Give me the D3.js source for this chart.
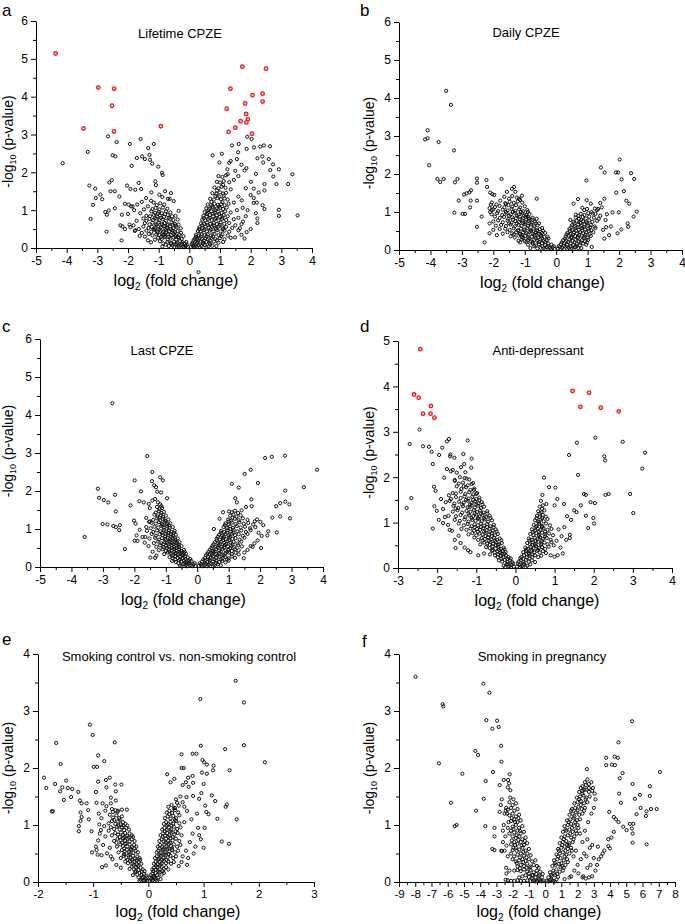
<!DOCTYPE html>
<html>
<head>
<meta charset="utf-8">
<script src="https://cdn.jsdelivr.net/npm/d3@7"></script>
<style>
  body { margin: 0; background: #fff; }
  text { font-family: "Liberation Sans", Arial, sans-serif; fill: #000; }
</style>
</head>
<body>
<div id="chart"></div>
<script>
// ---- data (log2 fold change, -log10 p) ----
var lifetimeRed = [[-4.36,5.14],[-2.97,4.24],[-2.45,4.21],[-2.52,3.76],[-3.45,3.16],[-2.46,3.08],[-0.93,3.22],[1.73,4.79],[2.50,4.74],[1.34,4.21],[1.22,3.68],[2.06,4.04],[2.39,4.08],[2.39,3.87],[1.82,3.82],[1.85,3.54],[1.91,3.40],[1.86,3.32],[1.67,3.35],[1.50,3.18],[1.28,3.07],[2.04,3.02]];
var lifetimeBlack = [[-4.13,2.24],[-3.31,2.54],[-2.65,2.95],[-2.37,2.80],[-2.50,2.45],[-2.41,2.42],[-3.26,1.65],[-3.07,1.57],[-2.90,1.41],[-2.84,1.29],[-3.05,1.32],[-3.14,1.14],[-2.61,1.73],[-2.53,1.79],[-2.57,1.50],[-2.43,1.50],[-2.74,0.95],[-2.69,0.88],[-2.63,0.99],[-3.22,0.77],[-2.70,0.43],[-2.43,1.05],[-2.21,0.20],[-1.94,2.75],[-1.59,2.88],[-1.88,2.17],[-1.71,2.38],[-1.54,2.42],[-1.34,2.64],[-1.16,2.75],[-1.30,2.46],[-1.45,2.35],[-1.28,2.33],[-1.21,2.23],[-1.01,2.15],[-0.89,1.99],[-0.87,1.93],[-1.11,1.76],[-1.09,1.66],[-2.03,1.65],[-1.92,1.56],[-1.76,1.54],[-1.65,1.72],[-1.57,1.56],[-1.41,1.32],[-1.24,1.47],[-0.98,1.41],[-0.79,1.50],[-0.64,1.30],[-0.51,1.24],[-0.35,0.98],[-2.28,1.36],[-2.10,1.17],[-1.85,1.10],[-2.18,0.57],[-2.10,0.50],[-1.92,0.55],[-1.76,0.47],
[0.76,2.45],[1.06,2.49],[0.98,2.26],[1.39,2.71],[1.61,2.75],[1.59,2.53],[1.89,2.94],[2.03,2.88],[1.87,2.62],[2.11,2.66],[2.31,2.68],[2.43,2.71],[2.63,2.69],[2.22,2.37],[2.38,2.42],[2.41,2.26],[2.59,2.35],[2.73,2.21],[2.92,2.08],[3.36,1.95],[3.22,1.69],[2.84,1.69],[2.74,1.89],[2.64,2.06],[2.45,1.69],[2.45,1.52],[2.17,1.96],[1.86,2.11],[1.50,2.04],[1.30,2.25],[1.24,2.08],[2.01,1.75],[1.84,1.58],[2.10,1.57],[2.26,1.47],[1.60,1.36],[1.71,1.26],[2.10,1.32],[2.10,1.19],[2.45,1.03],[2.39,1.13],[2.92,1.01],[2.92,0.85],[3.53,0.86],[2.17,0.92],[2.22,0.78],[2.22,0.66],[1.87,0.42],[1.65,0.52],[1.49,0.28],[1.84,0.84],[1.74,1.06],[0.30,-0.64],
[-0.05,0.03],[-0.12,0.06],[-0.2,0.04],[-0.28,0.08],[-0.36,0.05],[-0.45,0.09],[-0.55,0.07],[-0.15,0.12],[-0.1,0.16],[-0.22,0.15],[-0.3,0.18],[-0.4,0.14],[-0.5,0.17],[-0.6,0.13],[-0.72,0.16],[-0.85,0.12],[-0.96,0.18],[-0.25,0.24],[-0.34,0.27],[-0.43,0.22],[-0.52,0.28],[-0.62,0.25],[-0.7,0.22],[-0.8,0.29],[-0.9,0.24],[-1.02,0.27],[-1.12,0.22],[-0.32,0.35],[-0.42,0.33],[-0.5,0.38],[-0.6,0.34],[-0.7,0.37],[-0.78,0.32],[-0.88,0.38],[-0.98,0.34],[-1.08,0.36],[-1.2,0.33],[-1.32,0.37],[-0.38,0.45],[-0.47,0.42],[-0.56,0.47],[-0.66,0.44],[-0.76,0.48],[-0.86,0.42],[-0.94,0.46],[-1.04,0.44],[-1.14,0.48],[-1.24,0.43],[-1.4,0.46],[-0.42,0.55],[-0.52,0.52],[-0.63,0.57],[-0.73,0.53],[-0.83,0.58],[-0.93,0.54],[-1.02,0.57],[-1.12,0.52],[-1.22,0.56],[-1.33,0.53],[-1.5,0.57],[-0.47,0.64],[-0.58,0.67],[-0.69,0.62],[-0.8,0.66],[-0.9,0.63],[-1.0,0.68],[-1.1,0.64],[-1.2,0.67],[-1.3,0.62],[-1.45,0.66],[-0.52,0.74],[-0.64,0.77],[-0.76,0.72],[-0.87,0.76],[-0.98,0.73],[-1.08,0.78],[-1.18,0.74],[-1.3,0.77],[-1.4,0.72],[-0.56,0.84],[-0.7,0.87],[-0.83,0.82],[-0.95,0.86],[-1.05,0.83],[-1.16,0.88],[-1.28,0.84],[-0.62,0.94],[-0.76,0.97],[-0.9,0.92],[-1.0,0.96],[-1.12,0.93],[-1.24,0.97],[-0.72,1.04],[-0.86,1.07],[-0.98,1.02],[-1.1,1.06],[-1.2,1.03],[-0.82,1.15],[-0.95,1.18],[-1.06,1.13],[-1.16,1.2],
[-1.6,0.92],[-1.72,0.72],[-1.82,0.6],[-2.0,0.9],[-1.9,1.1],[-1.55,1.22],[-1.48,1.02],[-1.65,0.5],[-1.55,0.4],[-1.45,0.3],[-1.8,1.0],[-1.7,1.15],[-2.2,0.88],[-1.98,1.15],[-1.62,0.32],[-1.35,0.2],[-1.25,0.15],[-1.78,0.45],[-1.95,0.62],[-2.25,0.6],[-1.4,0.85],[-1.5,0.78],[-1.35,1.1],[-0.7,1.3],[-0.6,1.45],[-0.88,1.35],[-1.25,1.25],[-0.45,0.85],[-0.38,0.75],[-0.35,0.62],[-0.28,0.52],
[-0.08,0.09],[-0.17,0.02],[-0.24,0.11],[-0.33,0.02],[-0.41,0.1],[-0.49,0.03],[-0.58,0.11],[-0.67,0.05],[-0.77,0.09],[-0.88,0.04],[-0.19,0.31],[-0.27,0.4],[-0.37,0.29],[-0.46,0.31],[-0.55,0.41],[-0.65,0.3],[-0.74,0.41],[-0.83,0.35],[-0.93,0.29],[-1.05,0.41],[-0.44,0.59],[-0.54,0.62],[-0.61,0.5],[-0.71,0.6],[-0.79,0.51],[-0.87,0.61],[-0.97,0.5],[-1.07,0.61],[-1.17,0.5],[-0.67,0.8],[-0.79,0.9],[-0.92,0.8],[-1.03,0.91],[-1.13,0.79],
[0.05,0.03],[0.12,0.06],[0.2,0.04],[0.3,0.07],[0.4,0.05],[0.5,0.08],[0.62,0.04],[0.75,0.06],[0.1,0.14],[0.18,0.16],[0.26,0.13],[0.35,0.17],[0.45,0.14],[0.55,0.16],[0.66,0.13],[0.8,0.17],[0.95,0.14],[1.1,0.16],[0.18,0.25],[0.25,0.23],[0.33,0.27],[0.42,0.24],[0.52,0.26],[0.62,0.23],[0.72,0.27],[0.85,0.24],[1.0,0.26],[1.15,0.23],[1.35,0.27],[0.22,0.35],[0.3,0.33],[0.4,0.37],[0.5,0.34],[0.6,0.36],[0.7,0.33],[0.82,0.37],[0.95,0.34],[1.08,0.36],[1.25,0.33],[0.28,0.45],[0.37,0.43],[0.47,0.47],[0.57,0.44],[0.67,0.46],[0.78,0.43],[0.9,0.47],[1.02,0.44],[1.15,0.46],[1.3,0.43],[1.6,0.47],[0.33,0.55],[0.43,0.53],[0.53,0.57],[0.63,0.54],[0.74,0.56],[0.85,0.53],[0.96,0.57],[1.08,0.54],[1.2,0.56],[1.4,0.53],[0.38,0.65],[0.48,0.63],[0.58,0.67],[0.68,0.64],[0.8,0.66],[0.9,0.63],[1.02,0.67],[1.14,0.64],[1.3,0.66],[1.7,0.63],[0.42,0.75],[0.52,0.73],[0.62,0.77],[0.73,0.74],[0.84,0.76],[0.95,0.73],[1.07,0.77],[1.2,0.74],[1.45,0.76],[0.46,0.85],[0.56,0.83],[0.67,0.87],[0.78,0.84],[0.9,0.86],[1.0,0.83],[1.12,0.87],[1.25,0.84],[0.5,0.95],[0.6,0.93],[0.72,0.97],[0.83,0.94],[0.94,0.96],[1.05,0.93],[1.17,0.97],[1.35,0.94],[0.55,1.05],[0.65,1.03],[0.77,1.07],[0.88,1.04],[1.0,1.06],[1.1,1.03],[1.22,1.07],[0.6,1.15],[0.7,1.13],[0.82,1.17],[0.93,1.14],[1.04,1.16],[1.15,1.13],[1.28,1.17],[0.68,1.3],[0.8,1.28],[0.92,1.32],[1.03,1.29],[1.15,1.31],[1.25,1.28],[0.75,1.45],[0.88,1.43],[1.0,1.47],[1.1,1.44],[1.2,1.46],[0.82,1.6],[0.95,1.58],[1.05,1.62],[1.18,1.59],[0.9,1.75],[1.0,1.73],[1.12,1.77],[1.3,1.74],[0.95,1.9],[1.08,1.88],[1.2,1.92],
[1.5,0.6],[1.6,0.8],[1.75,0.7],[1.9,1.0],[2.0,0.5],[1.55,1.0],[1.45,1.2],[1.35,1.55],[1.45,1.8],[1.6,1.9],[1.7,2.2],[1.25,1.95],[1.35,2.3],[1.55,2.35],[1.8,2.05],[2.0,1.4],[2.2,1.2],[1.7,0.35],[1.8,0.25],
[0.08,0.1],[0.15,0.02],[0.23,0.1],[0.34,0.02],[0.44,0.11],[0.56,0.02],[0.68,0.1],[0.88,0.05],[0.14,0.21],[0.22,0.3],[0.29,0.2],[0.37,0.3],[0.47,0.2],[0.56,0.31],[0.67,0.2],[0.77,0.3],[0.9,0.2],[1.04,0.31],[0.32,0.5],[0.42,0.6],[0.5,0.49],[0.6,0.61],[0.7,0.5],[0.79,0.6],[0.88,0.51],[0.99,0.61],[1.1,0.5],[0.47,0.79],[0.57,0.9],[0.66,0.8],[0.77,0.91],[0.87,0.79],[0.97,0.9],[1.08,0.81],[0.62,1.0],[0.75,1.1],[0.85,1.0],[0.97,1.1],[1.08,1.21],[0.72,1.22],[0.85,1.38],[0.97,1.36],[1.12,1.38],[0.9,1.52],[1.1,1.67]];

var dailyPts = [[-4.09,3.15],[-4.17,2.91],[-4.09,2.94],[-4.04,2.23],[-3.74,2.84],[-3.50,4.19],[-3.35,3.82],[-3.25,2.62],[-3.78,1.87],[-3.69,1.79],[-3.58,1.87],[-3.22,1.78],[-3.14,1.87],[-3.24,0.98],[-3.10,1.30],[-2.98,0.95],[-2.90,0.95],[-2.93,1.46],[-2.85,1.49],[-2.76,1.52],[-2.71,1.57],[-2.72,1.30],[-2.74,1.12],[-2.52,1.88],[-2.52,1.77],[-2.52,1.30],[-2.52,0.61],[-2.37,0.88],[-2.28,0.20],[-2.22,1.84],[-2.20,1.66],[-2.10,1.51],[-2.03,1.47],[-1.97,1.45],[-1.74,1.87],[-1.57,1.53],[-1.41,1.61],[-1.34,1.66],[-1.30,1.53],[-1.09,1.43],[-0.88,0.85],[-0.62,1.35],[-1.18,1.35],[-1.60,1.21],[-1.65,1.40],[-2.08,1.19],[-2.05,1.05],[-2.12,0.70],[-2.12,0.44],[-2.00,0.53],[-1.89,0.39],
[0.96,1.83],[1.42,2.17],[1.54,2.04],[1.74,0.62],[1.90,2.04],[1.97,2.04],[2.02,2.38],[2.08,1.86],[2.15,1.55],[1.91,1.51],[2.23,1.30],[2.32,1.22],[2.38,2.02],[2.48,1.87],[2.56,1.01],[2.46,0.88],[2.27,0.70],[2.29,0.61],[2.07,0.54],[1.95,0.44],[1.79,0.99],[1.99,0.99],[1.61,0.94],[1.57,0.79],[1.49,0.53],[1.53,0.30],[1.68,0.39],[1.59,0.60],[1.53,1.35],[1.40,1.24],[1.33,1.08],[1.23,1.09],[1.16,0.96],[0.97,1.31],[0.69,1.34],[0.55,1.22],[1.10,1.22],[0.89,1.05],[0.83,1.11],[0.62,0.93],[0.45,0.79],[1.13,0.08],
[-0.05,0.03],[-0.12,0.07],[-0.2,0.05],[-0.3,0.08],[-0.4,0.04],[-0.5,0.06],[-0.15,0.14],[-0.25,0.17],[-0.35,0.13],[-0.45,0.18],[-0.55,0.15],[-0.65,0.12],[-0.75,0.17],[-0.9,0.14],[-0.3,0.26],[-0.4,0.23],[-0.5,0.28],[-0.6,0.24],[-0.7,0.27],[-0.8,0.22],[-0.9,0.26],[-1.0,0.23],[-1.1,0.28],[-1.2,0.24],[-0.38,0.34],[-0.48,0.37],[-0.58,0.33],[-0.68,0.38],[-0.78,0.35],[-0.88,0.32],[-0.98,0.37],[-1.08,0.34],[-1.2,0.38],[-1.32,0.33],[-1.45,0.36],[-0.45,0.45],[-0.55,0.42],[-0.65,0.47],[-0.75,0.43],[-0.85,0.48],[-0.95,0.44],[-1.05,0.46],[-1.15,0.42],[-1.27,0.47],[-1.4,0.44],[-1.55,0.47],[-1.7,0.43],[-0.52,0.55],[-0.62,0.52],[-0.72,0.57],[-0.82,0.53],[-0.92,0.58],[-1.02,0.54],[-1.12,0.56],[-1.22,0.52],[-1.35,0.57],[-1.48,0.53],[-1.62,0.56],[-1.8,0.55],[-0.6,0.65],[-0.7,0.62],[-0.8,0.67],[-0.9,0.63],[-1.0,0.68],[-1.1,0.64],[-1.2,0.66],[-1.32,0.62],[-1.45,0.67],[-1.6,0.63],[-1.75,0.66],[-1.92,0.64],[-0.68,0.75],[-0.78,0.72],[-0.88,0.77],[-0.98,0.73],[-1.08,0.78],[-1.18,0.74],[-1.3,0.76],[-1.42,0.72],[-1.55,0.77],[-1.7,0.73],[-1.85,0.78],[-2.0,0.75],[-0.75,0.85],[-0.86,0.82],[-0.96,0.87],[-1.06,0.83],[-1.16,0.88],[-1.28,0.84],[-1.4,0.86],[-1.52,0.82],[-1.66,0.87],[-1.8,0.84],[-1.95,0.88],[-0.85,0.95],[-0.96,0.92],[-1.08,0.97],[-1.2,0.93],[-1.32,0.98],[-1.45,0.94],[-1.58,0.96],[-1.72,0.92],[-1.88,0.97],[-2.05,0.94],[-0.92,1.05],[-1.05,1.02],[-1.18,1.07],[-1.3,1.03],[-1.42,1.08],[-1.55,1.04],[-1.7,1.06],[-1.85,1.02],[-2.0,1.07],[-2.12,1.1],[-1.0,1.15],[-1.15,1.12],[-1.28,1.18],[-1.4,1.14],[-1.52,1.18],[-1.65,1.12],[-1.8,1.16],[-1.95,1.13],[-1.08,1.25],[-1.22,1.28],[-1.35,1.24],[-1.48,1.27],[-1.62,1.23],[-1.78,1.3],[-1.9,1.2],[-1.25,1.38],[-1.4,1.42],[-1.5,1.35],[-1.15,1.32],[-2.05,1.25],[-2.1,1.0],[-0.45,0.58],[-0.35,0.45],[-0.28,0.35],[-0.55,0.7],[-0.62,0.82],
[-0.08,0.1],[-0.17,0.02],[-0.26,0.11],[-0.35,0.02],[-0.45,0.1],[-0.6,0.04],[-0.7,0.1],[-0.82,0.05],[-0.25,0.3],[-0.35,0.21],[-0.45,0.31],[-0.55,0.21],[-0.65,0.31],[-0.75,0.2],[-0.85,0.3],[-0.95,0.21],[-1.05,0.31],[-1.15,0.2],[-0.42,0.5],[-0.5,0.41],[-0.6,0.5],[-0.7,0.41],[-0.8,0.5],[-0.9,0.41],[-1.0,0.51],[-1.1,0.4],[-1.2,0.5],[-1.35,0.41],[-0.65,0.7],[-0.75,0.8],[-0.85,0.7],[-0.95,0.8],[-1.05,0.7],[-1.15,0.8],[-1.25,0.7],[-1.38,0.8],[-1.5,0.7],[-0.9,1.0],[-1.02,0.9],[-1.12,1.0],[-1.25,0.9],[-1.38,1.0],[-1.5,0.9],[-1.6,1.0],
[0.05,0.04],[0.12,0.08],[0.2,0.05],[0.3,0.09],[0.4,0.06],[0.5,0.04],[0.6,0.08],[0.7,0.05],[0.15,0.15],[0.25,0.18],[0.35,0.14],[0.45,0.17],[0.55,0.13],[0.65,0.16],[0.75,0.12],[0.85,0.17],[0.95,0.14],[0.22,0.26],[0.32,0.23],[0.42,0.28],[0.52,0.24],[0.62,0.27],[0.72,0.22],[0.82,0.26],[0.92,0.23],[1.02,0.27],[0.3,0.35],[0.4,0.38],[0.5,0.34],[0.6,0.37],[0.7,0.33],[0.8,0.38],[0.9,0.35],[1.0,0.32],[1.1,0.37],[0.36,0.45],[0.46,0.42],[0.56,0.47],[0.66,0.43],[0.76,0.48],[0.86,0.44],[0.96,0.46],[1.06,0.42],[1.18,0.47],[0.42,0.55],[0.52,0.52],[0.62,0.57],[0.72,0.53],[0.82,0.58],[0.92,0.54],[1.02,0.56],[1.12,0.52],[1.25,0.58],[0.5,0.65],[0.6,0.62],[0.7,0.67],[0.8,0.63],[0.9,0.68],[1.0,0.64],[1.1,0.66],[1.22,0.62],[0.55,0.74],[0.65,0.77],[0.75,0.72],[0.85,0.76],[0.95,0.73],[1.05,0.78],[1.15,0.74],[1.3,0.77],[0.62,0.85],[0.72,0.82],[0.84,0.87],[0.94,0.83],[1.05,0.88],[1.2,0.85],[1.35,0.82],[0.78,0.95],[0.9,0.92],[1.02,0.97],[1.12,1.0],[1.25,0.95],[1.4,0.9],[0.98,1.08],[1.3,1.05],[1.45,1.12],
[0.08,0.1],[0.16,0.02],[0.25,0.11],[0.35,0.03],[0.45,0.1],[0.55,0.02],[0.65,0.1],[0.8,0.05],[0.18,0.2],[0.28,0.3],[0.38,0.21],[0.48,0.31],[0.58,0.2],[0.68,0.31],[0.78,0.2],[0.88,0.31],[0.98,0.2],[0.33,0.41],[0.43,0.5],[0.53,0.4],[0.63,0.51],[0.73,0.4],[0.83,0.51],[0.93,0.4],[1.03,0.5],[0.48,0.6],[0.58,0.7],[0.68,0.6],[0.78,0.71],[0.88,0.6],[0.98,0.7],[1.08,0.6],[0.7,0.9],[0.8,0.8]];

var lastPts = [[-3.58,0.79],[-2.70,4.31],[-3.16,2.06],[-3.12,1.82],[-2.97,1.76],[-2.83,1.70],[-2.61,1.90],[-2.59,1.46],[-3.01,1.13],[-2.86,1.12],[-2.67,1.08],[-2.59,1.05],[-2.46,1.10],[-2.48,0.97],[-2.30,0.47],[-2.12,1.62],[-1.99,2.28],[-2.01,1.22],[-1.96,1.14],[-1.93,0.83],[-1.99,0.69],[-1.90,0.69],[-1.83,0.98],[-1.79,1.99],[-1.84,1.73],[-1.70,1.70],[-1.67,0.64],[-1.74,0.79],[-1.65,0.79],[-1.59,2.92],[-1.54,1.66],[-1.51,1.55],[-1.43,2.50],[-1.44,2.26],[-1.37,2.15],[-1.31,2.10],[-1.27,1.98],[-1.34,1.79],[-1.43,1.75],[-1.18,2.36],[-1.09,2.28],[-1.15,1.96],[-0.96,1.81],[-1.49,0.25],[-1.34,0.24],[-1.62,1.29],[-1.53,1.19],
[1.10,2.19],[1.32,2.09],[1.51,2.45],[1.70,2.56],[1.93,2.21],[2.16,2.87],[2.37,2.90],[2.79,2.93],[3.81,2.56],[3.39,2.10],[2.80,2.01],[2.51,1.60],[2.64,1.68],[2.80,1.72],[2.93,1.65],[2.39,1.30],[2.64,1.33],[2.95,1.28],[2.53,0.91],[2.26,0.94],[2.23,0.83],[2.03,0.50],[1.72,1.78],[1.73,1.60],[1.83,1.20],[2.01,1.19],[1.92,0.70],[1.76,0.53],[1.48,0.23],[1.55,1.58],[1.26,1.70],[1.41,1.49],[1.21,1.81],[1.01,1.46],[0.82,1.44],[0.71,1.27],[0.53,1.00],
[-0.05,0.03],[-0.12,0.07],[-0.2,0.04],[-0.28,0.09],[-0.36,0.05],[-0.45,0.08],[-0.55,0.04],[-0.18,0.15],[-0.26,0.18],[-0.34,0.13],[-0.42,0.17],[-0.5,0.14],[-0.58,0.18],[-0.68,0.13],[-0.8,0.16],[-0.3,0.25],[-0.38,0.28],[-0.46,0.23],[-0.54,0.27],[-0.62,0.24],[-0.7,0.28],[-0.78,0.22],[-0.88,0.26],[-0.36,0.35],[-0.44,0.33],[-0.52,0.38],[-0.6,0.34],[-0.68,0.37],[-0.76,0.32],[-0.84,0.36],[-0.94,0.38],[-1.05,0.34],[-0.42,0.45],[-0.5,0.42],[-0.58,0.47],[-0.66,0.43],[-0.74,0.48],[-0.82,0.44],[-0.9,0.46],[-1.0,0.42],[-1.1,0.47],[-1.22,0.44],[-0.5,0.55],[-0.58,0.52],[-0.66,0.57],[-0.74,0.53],[-0.82,0.58],[-0.9,0.54],[-0.98,0.56],[-1.08,0.52],[-1.18,0.57],[-1.3,0.53],[-0.56,0.65],[-0.64,0.62],[-0.72,0.67],[-0.8,0.63],[-0.88,0.68],[-0.96,0.64],[-1.04,0.66],[-1.14,0.62],[-1.25,0.67],[-1.38,0.63],[-0.62,0.75],[-0.7,0.72],[-0.78,0.77],[-0.86,0.73],[-0.94,0.78],[-1.02,0.74],[-1.12,0.76],[-1.22,0.72],[-1.34,0.77],[-0.68,0.85],[-0.76,0.82],[-0.84,0.87],[-0.92,0.83],[-1.0,0.88],[-1.1,0.84],[-1.2,0.86],[-1.32,0.82],[-1.45,0.87],[-0.72,0.95],[-0.82,0.92],[-0.9,0.97],[-0.98,0.93],[-1.06,0.98],[-1.16,0.94],[-1.28,0.96],[-1.4,0.92],[-0.78,1.05],[-0.88,1.02],[-0.96,1.07],[-1.06,1.03],[-1.14,1.08],[-1.24,1.04],[-1.36,1.06],[-1.48,1.02],[-0.86,1.15],[-0.96,1.12],[-1.04,1.17],[-1.12,1.13],[-1.22,1.18],[-1.32,1.14],[-1.45,1.16],[-0.92,1.25],[-1.02,1.22],[-1.1,1.27],[-1.18,1.23],[-1.28,1.28],[-1.4,1.24],[-1.0,1.35],[-1.08,1.32],[-1.16,1.37],[-1.26,1.33],[-1.36,1.38],[-1.06,1.45],[-1.14,1.42],[-1.22,1.47],[-1.32,1.43],[-1.12,1.55],[-1.2,1.52],[-1.28,1.58],[-1.18,1.65],[-1.25,1.7],[-1.52,0.75],[-1.6,0.95],[-1.55,0.55],[-1.42,0.4],[-1.3,0.3],[-1.5,1.2],[-1.62,1.05],
[-0.08,0.1],[-0.16,0.02],[-0.24,0.11],[-0.32,0.02],[-0.4,0.1],[-0.5,0.02],[-0.6,0.1],[-0.22,0.21],[-0.3,0.12],[-0.38,0.21],[-0.46,0.3],[-0.54,0.2],[-0.62,0.31],[-0.7,0.2],[-0.8,0.3],[-0.4,0.4],[-0.48,0.31],[-0.56,0.4],[-0.64,0.5],[-0.72,0.4],[-0.8,0.5],[-0.88,0.4],[-0.96,0.5],[-0.6,0.6],[-0.68,0.7],[-0.76,0.6],[-0.84,0.7],[-0.92,0.6],[-1.0,0.7],[-1.08,0.6],[-0.74,0.9],[-0.82,0.8],[-0.92,0.9],[-1.02,0.8],[-1.12,0.9],[-0.9,1.1],[-1.0,1.2],[-1.1,1.1],[-1.2,1.3],[-1.14,1.6],
[0.05,0.03],[0.12,0.07],[0.2,0.04],[0.28,0.08],[0.36,0.05],[0.45,0.09],[0.55,0.04],[0.65,0.07],[0.15,0.14],[0.24,0.17],[0.32,0.13],[0.4,0.18],[0.5,0.14],[0.6,0.17],[0.7,0.13],[0.8,0.16],[0.9,0.12],[1.0,0.17],[0.25,0.24],[0.34,0.27],[0.42,0.23],[0.5,0.28],[0.6,0.24],[0.7,0.27],[0.8,0.22],[0.9,0.26],[1.0,0.23],[1.1,0.28],[1.2,0.24],[0.32,0.35],[0.4,0.33],[0.5,0.38],[0.6,0.34],[0.7,0.37],[0.8,0.32],[0.9,0.36],[1.0,0.38],[1.1,0.34],[1.22,0.37],[1.32,0.33],[0.4,0.45],[0.5,0.42],[0.6,0.47],[0.7,0.43],[0.8,0.48],[0.9,0.44],[1.0,0.46],[1.1,0.42],[1.2,0.47],[1.32,0.44],[0.48,0.55],[0.58,0.52],[0.68,0.57],[0.78,0.53],[0.88,0.58],[0.98,0.54],[1.08,0.56],[1.18,0.52],[1.3,0.57],[1.42,0.54],[0.56,0.65],[0.66,0.62],[0.76,0.67],[0.86,0.63],[0.96,0.68],[1.06,0.64],[1.16,0.66],[1.28,0.62],[1.4,0.67],[0.62,0.75],[0.72,0.72],[0.82,0.77],[0.92,0.73],[1.02,0.78],[1.12,0.74],[1.22,0.76],[1.35,0.72],[1.5,0.77],[0.7,0.85],[0.8,0.82],[0.9,0.87],[1.0,0.83],[1.1,0.88],[1.2,0.84],[1.32,0.86],[1.45,0.82],[1.6,0.87],[0.76,0.95],[0.86,0.92],[0.96,0.97],[1.06,0.93],[1.16,0.98],[1.28,0.94],[1.4,0.96],[1.55,0.92],[1.7,0.97],[0.84,1.05],[0.94,1.02],[1.04,1.07],[1.14,1.03],[1.26,1.08],[1.38,1.04],[1.52,1.06],[1.68,1.02],[1.85,1.05],[0.9,1.15],[1.0,1.12],[1.1,1.17],[1.22,1.13],[1.34,1.18],[1.48,1.14],[1.62,1.16],[1.78,1.12],[0.98,1.25],[1.08,1.22],[1.2,1.27],[1.32,1.23],[1.45,1.28],[1.6,1.24],[1.05,1.35],[1.15,1.38],[1.25,1.32],[1.38,1.36],[1.1,1.44],[1.2,1.48],[1.3,1.42],[1.95,0.9],[2.05,0.82],[1.9,1.25],[2.1,1.1],[1.82,0.62],[1.7,0.55],[1.6,0.45],[1.5,0.38],
[0.08,0.1],[0.16,0.02],[0.24,0.11],[0.32,0.02],[0.4,0.1],[0.5,0.02],[0.6,0.1],[0.75,0.04],[0.2,0.2],[0.28,0.31],[0.36,0.2],[0.46,0.31],[0.55,0.2],[0.65,0.31],[0.75,0.2],[0.85,0.31],[0.95,0.2],[0.36,0.4],[0.45,0.5],[0.55,0.4],[0.65,0.51],[0.75,0.4],[0.85,0.51],[0.95,0.4],[1.05,0.5],[0.52,0.6],[0.62,0.7],[0.72,0.6],[0.82,0.71],[0.92,0.6],[1.02,0.7],[1.12,0.6],[0.66,0.8],[0.75,0.9],[0.85,0.8],[0.95,0.9],[1.05,0.8],[1.15,0.9],[0.88,1.1],[1.0,1.2],[1.12,1.3],[1.05,1.0]];

var antidepRed = [[-2.43,4.82],[-2.59,3.82],[-2.47,3.75],[-2.16,3.57],[-2.36,3.40],[-2.17,3.40],[-2.07,3.31],[1.46,3.90],[1.88,3.86],[1.66,3.55],[2.18,3.53],[2.64,3.45]];
var antidepBlack = [[-2.45,3.05],[-2.70,2.73],[-2.36,2.68],[-2.21,2.67],[-2.14,2.56],[-2.11,2.29],[-2.66,1.54],[-2.78,1.32],[-2.08,1.79],[-2.04,1.70],[-2.07,1.36],[-2.11,0.87],[-1.95,2.49],[-1.87,2.65],[-1.90,1.52],[-2.01,1.26],[-1.96,1.06],[-1.82,1.99],[-1.75,2.79],[-1.70,2.84],[-1.66,2.50],[-1.67,2.46],[-1.56,2.43],[-1.75,2.18],[-1.65,2.13],[-1.60,2.16],[-1.55,1.94],[-1.50,2.10],[-1.39,2.22],[-1.33,2.51],[-1.22,2.81],[-1.31,2.29],[-1.28,2.11],[-1.12,2.41],[-1.13,2.21],[-1.08,1.87],[-1.06,1.72],[-1.00,1.63],[-1.25,1.97],[-1.32,1.80],[-1.60,1.65],[-1.53,1.31],[-1.71,1.15],[-1.85,0.99],[-1.68,0.84],[-1.53,0.44],[-1.45,0.71],[-1.21,0.39],[-1.17,1.34],
[0.73,1.99],[0.69,1.61],[0.86,1.78],[1.02,1.77],[1.07,1.52],[1.00,1.38],[0.79,1.41],[1.24,1.41],[1.37,2.49],[1.57,2.76],[1.60,2.05],[1.75,1.63],[1.80,1.61],[1.92,1.45],[2.03,1.43],[2.04,2.87],[2.27,2.46],[2.29,2.37],[2.30,1.61],[2.38,1.63],[2.74,2.78],[3.31,2.54],[3.24,2.19],[2.93,1.63],[3.01,1.21],[1.86,0.88],[1.80,1.15],[1.99,1.10],[2.01,0.98],[1.67,1.38],[1.56,1.23],[1.50,1.27],[1.42,1.06],[1.39,0.73],[1.39,0.66],[1.32,1.14],[1.21,0.32],[0.90,0.28],[1.08,0.28],
[-0.04,0.03],[-0.1,0.07],[-0.16,0.04],[-0.22,0.09],[-0.3,0.05],[-0.08,0.13],[-0.14,0.17],[-0.2,0.13],[-0.27,0.18],[-0.34,0.14],[-0.42,0.17],[-0.18,0.24],[-0.24,0.28],[-0.31,0.23],[-0.38,0.27],[-0.45,0.24],[-0.52,0.28],[-0.25,0.35],[-0.32,0.38],[-0.39,0.33],[-0.46,0.37],[-0.53,0.34],[-0.6,0.38],[-0.3,0.45],[-0.37,0.42],[-0.44,0.47],[-0.51,0.43],[-0.58,0.48],[-0.66,0.44],[-0.75,0.46],[-0.35,0.55],[-0.42,0.52],[-0.5,0.57],[-0.57,0.53],[-0.64,0.58],[-0.72,0.54],[-0.8,0.56],[-0.9,0.52],[-0.4,0.65],[-0.47,0.62],[-0.55,0.67],[-0.62,0.63],[-0.7,0.68],[-0.78,0.64],[-0.86,0.66],[-0.95,0.62],[-1.05,0.67],[-0.45,0.75],[-0.52,0.72],[-0.6,0.77],[-0.68,0.73],[-0.76,0.78],[-0.84,0.74],[-0.92,0.76],[-1.0,0.72],[-1.1,0.77],[-1.2,0.74],[-0.5,0.85],[-0.58,0.82],[-0.66,0.87],[-0.74,0.83],[-0.82,0.88],[-0.9,0.84],[-0.98,0.86],[-1.06,0.82],[-1.15,0.87],[-1.25,0.84],[-1.38,0.86],[-0.55,0.95],[-0.64,0.92],[-0.72,0.97],[-0.8,0.93],[-0.88,0.98],[-0.96,0.94],[-1.04,0.96],[-1.12,0.92],[-1.22,0.97],[-1.32,0.94],[-1.45,0.98],[-0.6,1.05],[-0.7,1.02],[-0.78,1.07],[-0.86,1.03],[-0.94,1.08],[-1.02,1.04],[-1.1,1.06],[-1.2,1.02],[-1.3,1.07],[-1.42,1.04],[-1.55,1.06],[-0.66,1.15],[-0.75,1.12],[-0.84,1.17],[-0.92,1.13],[-1.0,1.18],[-1.08,1.14],[-1.18,1.16],[-1.28,1.12],[-1.4,1.17],[-1.52,1.14],[-0.72,1.25],[-0.82,1.22],[-0.9,1.27],[-0.98,1.23],[-1.06,1.28],[-1.15,1.24],[-1.25,1.26],[-1.36,1.22],[-1.48,1.27],[-1.6,1.24],[-0.8,1.35],[-0.88,1.32],[-0.96,1.37],[-1.04,1.33],[-1.12,1.38],[-1.22,1.34],[-1.34,1.36],[-1.46,1.32],[-1.58,1.37],[-0.86,1.45],[-0.95,1.42],[-1.03,1.47],[-1.12,1.43],[-1.22,1.48],[-1.32,1.44],[-1.44,1.46],[-1.56,1.42],[-1.68,1.48],[-0.92,1.55],[-1.0,1.52],[-1.1,1.57],[-1.2,1.53],[-1.3,1.58],[-1.4,1.54],[-1.52,1.56],[-1.65,1.52],[-0.98,1.65],[-1.08,1.62],[-1.18,1.67],[-1.28,1.63],[-1.4,1.68],[-1.52,1.64],[-1.05,1.75],[-1.15,1.72],[-1.26,1.78],[-1.38,1.74],[-1.5,1.8],[-1.12,1.85],[-1.22,1.82],[-1.34,1.88],[-1.45,1.86],[-1.18,1.95],[-1.3,1.98],[-1.42,2.0],[-1.55,1.92],[-1.7,1.6],[-1.78,1.45],[-1.85,1.3],[-1.8,1.12],[-1.72,0.95],[-1.62,0.82],[-1.55,0.62],[-1.4,0.55],[-1.3,0.45],[-1.15,0.35],[-0.65,0.3],[-0.8,0.32],[-0.95,0.28],
[-0.06,0.1],[-0.12,0.02],[-0.19,0.08],[-0.26,0.02],[-0.12,0.21],[-0.2,0.2],[-0.28,0.31],[-0.36,0.21],[-0.44,0.3],[-0.28,0.41],[-0.35,0.31],[-0.42,0.4],[-0.5,0.5],[-0.58,0.4],[-0.66,0.51],[-0.36,0.61],[-0.44,0.51],[-0.52,0.6],[-0.6,0.7],[-0.68,0.6],[-0.76,0.7],[-0.84,0.6],[-0.48,0.8],[-0.56,0.9],[-0.64,0.8],[-0.72,0.9],[-0.8,0.8],[-0.88,0.9],[-0.96,0.8],[-1.04,0.9],[-0.64,1.1],[-0.72,1.2],[-0.8,1.1],[-0.88,1.2],[-0.96,1.1],[-1.04,1.2],[-1.12,1.1],[-1.2,1.2],[-0.84,1.4],[-0.92,1.5],[-1.0,1.4],[-1.08,1.5],[-1.16,1.4],[-1.26,1.5],[-1.36,1.4],
[0.04,0.03],[0.1,0.07],[0.16,0.04],[0.22,0.09],[0.3,0.05],[0.38,0.08],[0.08,0.14],[0.14,0.17],[0.2,0.13],[0.27,0.18],[0.34,0.14],[0.42,0.17],[0.5,0.13],[0.15,0.24],[0.22,0.28],[0.29,0.23],[0.36,0.27],[0.43,0.24],[0.5,0.28],[0.58,0.24],[0.66,0.27],[0.2,0.35],[0.27,0.38],[0.34,0.33],[0.41,0.37],[0.48,0.34],[0.55,0.38],[0.62,0.34],[0.7,0.37],[0.78,0.33],[0.25,0.45],[0.32,0.42],[0.39,0.47],[0.46,0.43],[0.53,0.48],[0.6,0.44],[0.68,0.46],[0.76,0.42],[0.85,0.47],[0.3,0.55],[0.37,0.52],[0.44,0.57],[0.51,0.53],[0.58,0.58],[0.66,0.54],[0.74,0.56],[0.82,0.52],[0.92,0.57],[0.34,0.65],[0.42,0.62],[0.49,0.67],[0.56,0.63],[0.63,0.68],[0.7,0.64],[0.8,0.66],[0.9,0.62],[0.38,0.75],[0.46,0.72],[0.53,0.77],[0.6,0.73],[0.68,0.78],[0.76,0.74],[0.86,0.76],[0.96,0.72],[0.42,0.85],[0.5,0.82],[0.57,0.87],[0.64,0.83],[0.72,0.88],[0.82,0.84],[0.92,0.86],[0.47,0.95],[0.54,0.92],[0.61,0.97],[0.68,0.93],[0.78,0.98],[0.88,0.94],[0.5,1.05],[0.58,1.02],[0.65,1.07],[0.72,1.03],[0.82,1.08],[0.55,1.15],[0.62,1.12],[0.7,1.17],[0.78,1.13],[0.58,1.25],[0.66,1.22],[0.74,1.27],[0.62,1.35],[0.7,1.38],[0.65,1.48],[1.05,0.6],[1.15,0.45],[1.1,0.85],[1.25,0.9],[1.0,0.25],[1.18,0.7],[0.98,0.5],[1.3,0.62],
[0.06,0.1],[0.12,0.02],[0.19,0.08],[0.26,0.02],[0.12,0.21],[0.2,0.2],[0.28,0.31],[0.36,0.21],[0.44,0.3],[0.28,0.41],[0.35,0.31],[0.42,0.4],[0.5,0.5],[0.58,0.4],[0.66,0.51],[0.36,0.61],[0.44,0.51],[0.52,0.6],[0.6,0.7],[0.68,0.6],[0.76,0.7],[0.45,0.8],[0.52,0.9],[0.6,0.8],[0.68,0.9],[0.76,0.8],[0.54,1.1],[0.6,1.0],[0.68,1.1],[0.62,1.2],[0.68,1.3]];

var smokeCtrlPts = [[-1.89,1.83],[-1.85,1.65],[-1.67,2.44],[-1.69,1.72],[-1.59,2.07],[-1.60,1.59],[-1.56,1.66],[-1.53,1.44],[-1.49,1.78],[-1.46,1.65],[-1.38,1.63],[-1.40,1.49],[-1.73,1.24],[-1.75,1.24],[-1.21,1.38],[-1.27,1.58],[-1.24,1.43],[-1.23,1.22],[-1.21,1.14],[-1.23,1.07],[-1.26,0.98],[-1.26,0.89],[-1.12,1.38],[-1.09,1.26],[-1.08,1.10],[-1.03,0.89],[-1.02,0.52],[-1.06,2.76],[-1.01,2.58],[-0.91,2.22],[-0.99,2.02],[-0.93,2.02],[-0.91,1.76],[-0.95,1.58],[-0.94,1.39],[-0.80,2.12],[-0.77,1.79],[-0.76,1.66],[-0.70,1.83],[-0.61,2.45],[-0.60,1.71],[-0.59,1.59],[-0.49,1.71],[-0.59,1.43],[-0.68,1.48],[-0.68,1.38],[-0.83,1.38],[-0.76,1.33],[-0.64,1.23],[-0.56,1.23],[-0.48,1.27],[-0.39,1.27],[-0.89,1.01],[-0.86,0.91],[-0.91,0.73],[-0.94,0.56],[-0.85,0.47],[-0.77,0.29],[-0.84,0.26],
[0.34,1.89],[0.40,1.75],[0.47,1.81],[0.60,2.24],[0.60,2.00],[0.64,2.00],[0.62,1.70],[0.68,1.75],[0.72,1.83],[0.73,1.67],[0.80,2.25],[0.87,2.25],[0.95,2.39],[0.94,3.21],[0.98,2.14],[1.01,2.10],[1.06,2.06],[1.18,2.04],[1.17,1.96],[0.97,1.92],[1.06,1.90],[1.00,1.72],[0.80,1.86],[0.81,1.74],[0.81,1.51],[0.92,1.46],[0.96,1.56],[1.03,1.34],[1.05,1.23],[1.09,1.19],[1.15,1.52],[1.21,1.42],[1.25,1.11],[1.02,0.95],[1.33,0.71],[1.39,2.33],[1.47,1.96],[1.42,1.36],[1.40,1.32],[1.46,0.67],[1.60,1.10],[1.58,3.53],[1.73,3.15],[1.73,2.40],[2.11,2.10],[0.69,1.49],[0.65,1.32],
[-0.02,0.02],[-0.05,0.05],[-0.08,0.03],[-0.11,0.07],[-0.14,0.04],[-0.18,0.08],[-0.04,0.11],[-0.08,0.14],[-0.12,0.12],[-0.16,0.16],[-0.2,0.13],[-0.24,0.17],[-0.28,0.12],[-0.1,0.22],[-0.14,0.25],[-0.18,0.21],[-0.22,0.26],[-0.26,0.22],[-0.3,0.27],[-0.34,0.23],[-0.13,0.32],[-0.17,0.35],[-0.21,0.31],[-0.25,0.36],[-0.29,0.32],[-0.33,0.37],[-0.37,0.33],[-0.42,0.36],[-0.16,0.42],[-0.2,0.45],[-0.24,0.41],[-0.28,0.46],[-0.32,0.42],[-0.36,0.47],[-0.4,0.43],[-0.45,0.46],[-0.5,0.42],[-0.19,0.52],[-0.23,0.55],[-0.27,0.51],[-0.31,0.56],[-0.35,0.52],[-0.39,0.57],[-0.43,0.53],[-0.48,0.56],[-0.54,0.52],[-0.22,0.62],[-0.26,0.65],[-0.3,0.61],[-0.34,0.66],[-0.38,0.62],[-0.42,0.67],[-0.46,0.63],[-0.51,0.66],[-0.57,0.62],[-0.25,0.72],[-0.3,0.75],[-0.34,0.71],[-0.38,0.76],[-0.42,0.72],[-0.46,0.77],[-0.5,0.73],[-0.56,0.76],[-0.62,0.72],[-0.3,0.82],[-0.34,0.85],[-0.38,0.81],[-0.42,0.86],[-0.46,0.82],[-0.5,0.87],[-0.55,0.83],[-0.6,0.86],[-0.66,0.82],[-0.35,0.92],[-0.4,0.95],[-0.44,0.91],[-0.48,0.96],[-0.52,0.92],[-0.57,0.97],[-0.62,0.93],[-0.68,0.96],[-0.42,1.02],[-0.46,1.05],[-0.5,1.01],[-0.55,1.06],[-0.6,1.02],[-0.66,1.07],[-0.72,1.03],[-0.48,1.15],[-0.53,1.12],[-0.58,1.17],[-0.64,1.13],[-0.7,1.18],[-0.6,1.26],[-0.66,1.28],[-0.55,1.25],[-0.7,0.6],[-0.75,0.5],[-0.65,0.4],[-0.58,0.3],[-0.5,0.25],[-0.78,0.8],[-0.82,0.65],[-0.72,0.9],[-0.8,0.98],[-0.85,1.12],[-0.9,1.2],[-0.78,1.25],[-0.88,0.85],[-0.95,0.62],[-0.92,0.48],[-0.68,0.45],
[-0.03,0.08],[-0.07,0.02],[-0.1,0.09],[-0.16,0.02],[-0.07,0.19],[-0.12,0.18],[-0.19,0.28],[-0.23,0.19],[-0.27,0.3],[-0.15,0.39],[-0.22,0.38],[-0.3,0.39],[-0.34,0.49],[-0.38,0.39],[-0.44,0.49],[-0.25,0.59],[-0.32,0.58],[-0.4,0.68],[-0.44,0.59],[-0.48,0.69],[-0.28,0.79],[-0.36,0.78],[-0.44,0.79],[-0.52,0.79],[-0.58,0.69],[-0.38,0.99],[-0.46,0.99],[-0.54,0.99],[-0.62,1.09],[-0.52,1.09],
[0.02,0.02],[0.05,0.05],[0.08,0.03],[0.11,0.07],[0.14,0.04],[0.18,0.08],[0.22,0.05],[0.04,0.12],[0.07,0.15],[0.1,0.11],[0.13,0.16],[0.16,0.12],[0.2,0.17],[0.24,0.13],[0.28,0.16],[0.07,0.22],[0.1,0.25],[0.13,0.21],[0.16,0.26],[0.2,0.22],[0.24,0.27],[0.28,0.23],[0.32,0.26],[0.36,0.22],[0.1,0.32],[0.13,0.35],[0.16,0.31],[0.2,0.36],[0.24,0.32],[0.28,0.37],[0.32,0.33],[0.36,0.36],[0.41,0.32],[0.46,0.35],[0.12,0.42],[0.15,0.45],[0.19,0.41],[0.23,0.46],[0.27,0.42],[0.31,0.47],[0.35,0.43],[0.4,0.46],[0.45,0.42],[0.5,0.45],[0.15,0.52],[0.18,0.55],[0.22,0.51],[0.26,0.56],[0.3,0.52],[0.34,0.57],[0.38,0.53],[0.43,0.56],[0.48,0.52],[0.54,0.55],[0.17,0.62],[0.21,0.65],[0.25,0.61],[0.29,0.66],[0.33,0.62],[0.37,0.67],[0.41,0.63],[0.46,0.66],[0.52,0.62],[0.58,0.65],[0.2,0.72],[0.24,0.75],[0.28,0.71],[0.32,0.76],[0.36,0.72],[0.4,0.77],[0.44,0.73],[0.5,0.76],[0.56,0.72],[0.22,0.82],[0.26,0.85],[0.3,0.81],[0.34,0.86],[0.38,0.82],[0.42,0.87],[0.47,0.83],[0.53,0.86],[0.6,0.82],[0.25,0.92],[0.29,0.95],[0.33,0.91],[0.37,0.96],[0.41,0.92],[0.46,0.97],[0.52,0.93],[0.58,0.96],[0.28,1.02],[0.32,1.05],[0.36,1.01],[0.4,1.06],[0.45,1.02],[0.5,1.07],[0.56,1.03],[0.3,1.12],[0.35,1.15],[0.4,1.11],[0.45,1.16],[0.5,1.12],[0.56,1.17],[0.33,1.22],[0.38,1.25],[0.43,1.21],[0.48,1.26],[0.54,1.22],[0.36,1.32],[0.42,1.35],[0.48,1.3],[0.55,1.34],[0.62,0.45],[0.68,0.55],[0.7,0.3],[0.75,0.7],[0.8,0.85],[0.85,0.62],[0.9,0.95],[0.78,1.1],[0.88,1.2],[0.65,1.05],[0.7,1.25],[0.95,0.75],[0.6,0.35],[0.55,0.28],[0.72,0.42],[0.82,0.5],[0.92,0.82],[1.0,0.6],[0.62,1.4],[0.58,1.5],[0.5,1.45],
[0.03,0.08],[0.07,0.02],[0.1,0.09],[0.16,0.02],[0.09,0.19],[0.14,0.28],[0.18,0.19],[0.22,0.3],[0.26,0.19],[0.18,0.39],[0.21,0.48],[0.25,0.39],[0.29,0.49],[0.33,0.39],[0.37,0.49],[0.2,0.59],[0.27,0.58],[0.31,0.69],[0.35,0.59],[0.39,0.69],[0.43,0.59],[0.26,0.79],[0.3,0.89],[0.36,0.79],[0.4,0.89],[0.44,0.79],[0.49,0.89],[0.34,0.99],[0.42,0.99],[0.48,1.09],[0.38,1.19],[0.46,1.29],[0.52,1.39]];

var pregnancyPts = [[-7.98,3.60],[-6.31,3.12],[-6.27,3.08],[-6.54,2.08],[-5.80,1.39],[-5.57,0.98],[-5.45,1.00],[-5.10,1.90],[-4.30,2.30],[-4.13,2.23],[-4.25,1.25],[-3.80,3.48],[-3.43,3.32],[-3.62,2.84],[-3.66,1.77],[-3.78,1.46],[-3.68,0.98],[-3.25,2.69],[-3.21,1.93],[-3.12,0.95],[-3.12,0.80],[-3.25,0.58],[-3.12,0.56],[-2.96,2.83],[-2.86,2.72],[-2.71,2.39],[-2.69,2.11],[-2.80,1.70],[-2.55,1.79],[-2.67,1.45],[-2.73,1.35],[-2.80,1.23],[-2.67,0.54],[-2.43,1.25],[-2.38,0.64],[-2.30,1.66],[-2.28,1.79],[-2.18,1.89],[-2.22,1.73],[-2.14,1.61],[-2.43,0.04],[-2.38,0.15],
[2.57,1.98],[3.76,2.18],[3.76,2.05],[4.28,2.20],[4.11,2.06],[4.30,2.05],[4.52,2.45],[4.48,2.18],[4.60,1.82],[4.77,1.91],[5.36,2.82],[5.39,1.72],[5.53,1.46],[5.84,1.53],[5.63,1.19],[5.88,1.30],[6.21,1.16],[6.25,1.24],[6.45,1.51],[6.45,1.68],[6.52,1.28],[6.87,1.28],[7.07,1.93],[6.25,0.66],[5.39,0.85],[5.39,0.69],[5.22,1.02],[5.43,1.02],[5.34,0.94],[5.02,0.91],[4.81,0.97],[4.67,1.39],[4.52,1.05],[4.36,1.10],[4.23,1.14],[4.56,1.55],[3.95,1.23],[4.23,0.88],[4.09,0.78],[3.89,0.75],[3.89,0.63],[3.99,0.59],
[-0.1,0.02],[-0.3,0.03],[-0.5,0.02],[-0.7,0.03],[-0.9,0.02],[-1.1,0.03],[-1.3,0.02],[-1.5,0.02],[-1.7,0.03],[-1.9,0.02],[-2.1,0.02],[-2.3,0.03],[-0.2,0.08],[-0.4,0.1],[-0.6,0.08],[-0.8,0.12],[-1.0,0.09],[-1.2,0.12],[-1.4,0.1],[-1.6,0.08],[-0.3,0.18],[-0.5,0.2],[-0.7,0.17],[-0.9,0.21],[-1.1,0.18],[-1.3,0.22],[-1.5,0.19],[-1.7,0.21],[-1.9,0.2],[-0.5,0.28],[-0.7,0.3],[-0.9,0.27],[-1.1,0.32],[-1.3,0.28],[-1.5,0.3],[-1.7,0.27],[-0.6,0.38],[-0.8,0.36],[-1.0,0.4],[-1.2,0.37],[-1.4,0.4],[-1.6,0.38],[-1.8,0.36],[-2.0,0.4],[-0.9,0.47],[-1.1,0.5],[-1.3,0.46],[-1.5,0.5],[-1.7,0.48],[-1.9,0.45],[-2.1,0.5],[-1.0,0.58],[-1.2,0.55],[-1.4,0.6],[-1.6,0.57],[-1.8,0.6],[-2.0,0.56],[-1.1,0.68],[-1.3,0.65],[-1.5,0.7],[-1.7,0.67],[-1.9,0.7],[-2.1,0.66],[-1.2,0.78],[-1.4,0.75],[-1.6,0.8],[-1.8,0.77],[-2.0,0.8],[-1.3,0.88],[-1.5,0.85],[-1.7,0.9],[-1.9,0.87],[-2.1,0.9],[-1.4,0.98],[-1.6,0.95],[-1.8,1.0],[-2.0,0.97],[-1.5,1.08],[-1.7,1.05],[-1.9,1.1],[-2.1,1.07],[-1.6,1.18],[-1.8,1.15],[-2.0,1.2],[-2.2,1.17],[-1.7,1.28],[-1.9,1.25],[-2.1,1.3],[-2.3,1.27],[-1.8,1.38],[-2.0,1.35],[-2.2,1.4],[-1.95,1.45],[-2.15,1.48],[-2.4,1.3],[-2.5,1.2],[-2.55,1.0],[-2.6,0.9],[-2.45,0.8],[-2.3,0.95],[-2.7,0.55],[-2.5,0.55],[-2.6,0.7],[-2.3,0.45],[-2.4,0.25],[-2.2,0.2],[-0.8,0.05],[-1.0,0.15],[-0.4,0.25],
[-0.2,0.01],[-0.4,0.04],[-0.6,0.01],[-0.15,0.14],[-0.35,0.12],[-0.55,0.14],[-0.75,0.12],[-0.95,0.25],[-1.15,0.25],[-1.35,0.35],[-1.55,0.24],[-1.75,0.33],[-1.15,0.43],[-1.35,0.53],[-1.55,0.43],[-1.75,0.55],[-1.95,0.6],[-1.25,0.72],[-1.45,0.64],[-1.65,0.74],[-1.85,0.65],[-2.05,0.73],[-1.55,0.9],[-1.75,0.82],[-1.95,0.93],[-2.2,0.85],[-1.65,1.12],[-1.85,1.05],[-2.05,1.12],[-2.25,1.05],[-2.35,1.2],
[0.1,0.02],[0.3,0.03],[0.5,0.02],[0.7,0.04],[0.2,0.08],[0.4,0.1],[0.6,0.12],[0.8,0.09],[0.3,0.17],[0.5,0.2],[0.7,0.22],[0.9,0.18],[1.1,0.2],[0.45,0.28],[0.65,0.3],[0.85,0.32],[1.05,0.28],[1.25,0.3],[0.55,0.38],[0.75,0.4],[0.95,0.42],[1.15,0.38],[1.35,0.4],[0.7,0.48],[0.9,0.5],[1.1,0.52],[1.3,0.48],[1.5,0.5],[0.8,0.58],[1.0,0.6],[1.2,0.62],[1.4,0.58],[1.6,0.6],[0.9,0.68],[1.1,0.7],[1.3,0.72],[1.5,0.68],[1.7,0.7],[1.0,0.78],[1.2,0.8],[1.4,0.82],[1.6,0.78],[1.8,0.8],[1.1,0.88],[1.3,0.9],[1.5,0.92],[1.7,0.88],[1.9,0.9],[1.2,0.98],[1.4,1.0],[1.6,1.02],[1.8,0.98],[2.0,1.0],[1.35,1.08],[1.55,1.1],[1.75,1.12],[1.95,1.08],[2.15,1.1],[1.5,1.18],[1.7,1.2],[1.9,1.22],[2.1,1.18],[2.3,1.2],[1.65,1.28],[1.85,1.3],[2.05,1.32],[2.25,1.28],[2.45,1.3],[1.8,1.38],[2.0,1.4],[2.2,1.42],[2.4,1.38],[2.6,1.4],[1.95,1.48],[2.15,1.5],[2.35,1.52],[2.55,1.48],[2.75,1.5],[2.1,1.58],[2.3,1.6],[2.5,1.62],[2.7,1.58],[2.9,1.6],[2.3,1.68],[2.5,1.7],[2.7,1.72],[2.95,1.65],[3.05,1.55],[3.1,1.45],[3.0,1.3],[2.85,1.2],[2.65,1.05],[2.45,0.9],[2.6,0.75],[2.3,0.7],[2.15,0.85],[2.4,0.5],[2.2,0.4],[2.0,0.3],[1.8,0.2],[1.6,0.1],[1.9,0.55],[1.75,0.45],[2.05,0.15],[2.3,0.08],[2.5,0.06],[2.7,0.08],[2.9,0.1],[3.1,0.2],[3.2,0.3],[3.3,0.4],[3.45,0.45],[3.55,0.5],[3.65,0.55],[2.6,0.25],[2.8,0.3],[3.0,0.42],[2.55,0.45],[2.75,0.6],[2.9,0.65],[3.25,0.62],[1.2,0.05],[1.5,0.08],[2.35,0.1],[2.45,1.75],[2.6,1.8],
[0.2,0.01],[0.4,0.04],[0.6,0.01],[0.35,0.12],[0.55,0.15],[0.75,0.14],[0.95,0.26],[1.15,0.25],[0.6,0.33],[0.8,0.45],[1.0,0.33],[1.2,0.45],[1.4,0.35],[0.85,0.55],[1.05,0.65],[1.25,0.55],[1.45,0.65],[1.65,0.55],[1.15,0.75],[1.35,0.65],[1.55,0.85],[1.75,0.75],[1.95,0.85],[1.25,0.92],[1.45,1.05],[1.65,0.95],[1.85,1.05],[2.05,0.95],[1.6,1.25],[1.8,1.15],[2.0,1.25],[2.2,1.35],[2.4,1.25],[2.1,1.45],[2.3,1.55],[2.5,1.45],[2.7,1.65],[2.85,1.75],[2.4,1.62],[2.2,1.65]];

// tick values per panel
var ticksX54 = [-5,-4,-3,-2,-1,0,1,2,3,4];
var ticksX34 = [-3,-2,-1,0,1,2,3,4];
var ticksX23 = [-2,-1,0,1,2,3];
var ticksX98 = [-9,-8,-7,-6,-5,-4,-3,-2,-1,0,1,2,3,4,5,6,7,8];
var ticksY6 = [0,1,2,3,4,5,6];
var ticksY5 = [0,1,2,3,4,5];
var ticksY4 = [0,1,2,3,4];

// panel layout (pixel boxes) and which data goes where
var panels = [
  {letter:"a", lx:2,   ly:16,  title:"Lifetime CPZE",  tx:180, ty:38,  left:36,  right:312, top:21,  bottom:248, yShift:7,  xt:ticksX54, yt:ticksY6, black:lifetimeBlack, red:lifetimeRed, big:false},
  {letter:"b", lx:360, ly:16,  title:"Daily CPZE",     tx:526, ty:37,  left:399, right:682, top:22,  bottom:250, yShift:7,  xt:ticksX54, yt:ticksY6, black:dailyPts, red:[], big:false},
  {letter:"c", lx:2,   ly:332, title:"Last CPZE",      tx:162, ty:355, left:40,  right:323, top:339, bottom:567, yShift:-2, xt:ticksX54, yt:ticksY6, black:lastPts, red:[], big:false},
  {letter:"d", lx:360, ly:332, title:"Anti-depressant",tx:538, ty:355, left:398, right:672, top:341, bottom:568, yShift:-2, xt:ticksX34, yt:ticksY5, black:antidepBlack, red:antidepRed, big:false},
  {letter:"e", lx:2,   ly:645, title:"Smoking control vs. non-smoking control", tx:179, ty:661, left:38, right:314, top:654, bottom:882, yShift:0, xt:ticksX23, yt:ticksY4, black:smokeCtrlPts, red:[], big:true},
  {letter:"f", lx:362, ly:647, title:"Smoking in pregnancy", tx:542, ty:661, left:399, right:675, top:654, bottom:882, yShift:0, xt:ticksX98, yt:ticksY4, black:pregnancyPts, red:[], big:true}
];

var svg = d3.select("#chart").append("svg")
  .attr("width", 685)
  .attr("height", 924);

svg.append("rect").attr("width", 685).attr("height", 924).attr("fill", "#fff");

function halfSteps(ticks) {
  var out = [];
  for (var i = 0; i < ticks.length - 1; i++) out.push((ticks[i] + ticks[i+1]) / 2);
  return out;
}

panels.forEach(function(p) {
  var g = svg.append("g");
  var xd = [p.xt[0], p.xt[p.xt.length-1]];
  var yd = [p.yt[0], p.yt[p.yt.length-1]];
  var x = d3.scaleLinear().domain(xd).range([p.left, p.right]);
  var y = d3.scaleLinear().domain(yd).range([p.bottom, p.top]);

  // minor ticks first, then major axis on top
  g.append("g")
    .attr("transform", "translate(0," + p.bottom + ")")
    .call(d3.axisBottom(x).tickValues(halfSteps(p.xt)).tickSize(3).tickSizeOuter(0).tickFormat(""))
    .call(function(a){ a.select(".domain").remove(); });
  g.append("g")
    .attr("transform", "translate(" + p.left + ",0)")
    .call(d3.axisLeft(y).tickValues(halfSteps(p.yt)).tickSize(3).tickSizeOuter(0).tickFormat(""))
    .call(function(a){ a.select(".domain").remove(); });

  var xAxis = g.append("g")
    .attr("transform", "translate(0," + p.bottom + ")")
    .call(d3.axisBottom(x).tickValues(p.xt).tickSize(5).tickSizeOuter(0).tickFormat(function(d){ return String(d); }));
  var yAxis = g.append("g")
    .attr("transform", "translate(" + p.left + ",0)")
    .call(d3.axisLeft(y).tickValues(p.yt).tickSize(5).tickSizeOuter(0).tickFormat(function(d){ return String(d); }));

  g.selectAll(".tick line, .domain").attr("stroke", "#000").attr("stroke-width", 1);
  xAxis.selectAll("text").attr("font-size", p.big ? 11.5 : 12).attr("font-family", "Liberation Sans, Arial, sans-serif").attr("fill", "#000");
  yAxis.selectAll("text").attr("font-size", 12).attr("font-family", "Liberation Sans, Arial, sans-serif").attr("fill", "#000");

  // points
  g.append("g").selectAll("circle")
    .data(p.black)
    .enter()
    .append("circle")
      .attr("cx", function(d){ return x(d[0]); })
      .attr("cy", function(d){ return y(d[1]); })
      .attr("r", 1.6)
      .attr("fill", "none")
      .attr("stroke", "#111")
      .attr("stroke-width", 1);

  g.append("g").selectAll("circle")
    .data(p.red)
    .enter()
    .append("circle")
      .attr("cx", function(d){ return x(d[0]); })
      .attr("cy", function(d){ return y(d[1]); })
      .attr("r", 1.8)
      .attr("fill", "#f7b5b5")
      .attr("stroke", "#e3242b")
      .attr("stroke-width", 1.3);

  // panel letter and title
  g.append("text").attr("x", p.lx).attr("y", p.ly).attr("font-size", 17).text(p.letter);
  g.append("text").attr("x", p.tx).attr("y", p.ty).attr("text-anchor", "middle").attr("font-size", 13).text(p.title);

  // x axis title: log2 (fold change)
  var xt = g.append("text")
    .attr("x", (p.left + p.right) / 2 + 2)
    .attr("y", p.bottom + (p.big ? 35 : 38))
    .attr("text-anchor", "middle")
    .attr("font-size", 16);
  xt.append("tspan").text("log");
  xt.append("tspan").attr("font-size", 10).attr("dy", 4).text("2");
  xt.append("tspan").attr("dy", -4).text(" (fold change)");

  // y axis title: -log10 (p-value)
  var cy = (p.top + p.bottom) / 2 + p.yShift;
  var yt = g.append("text")
    .attr("transform", "translate(" + (p.left < 100 ? 13 : 374) + "," + cy + ") rotate(-90)")
    .attr("text-anchor", "middle")
    .attr("font-size", 14);
  yt.append("tspan").text("-log");
  yt.append("tspan").attr("font-size", 9).attr("dy", 3).text("10");
  yt.append("tspan").attr("dy", -3).text(" (p-value)");
});
</script>
</body>
</html>
